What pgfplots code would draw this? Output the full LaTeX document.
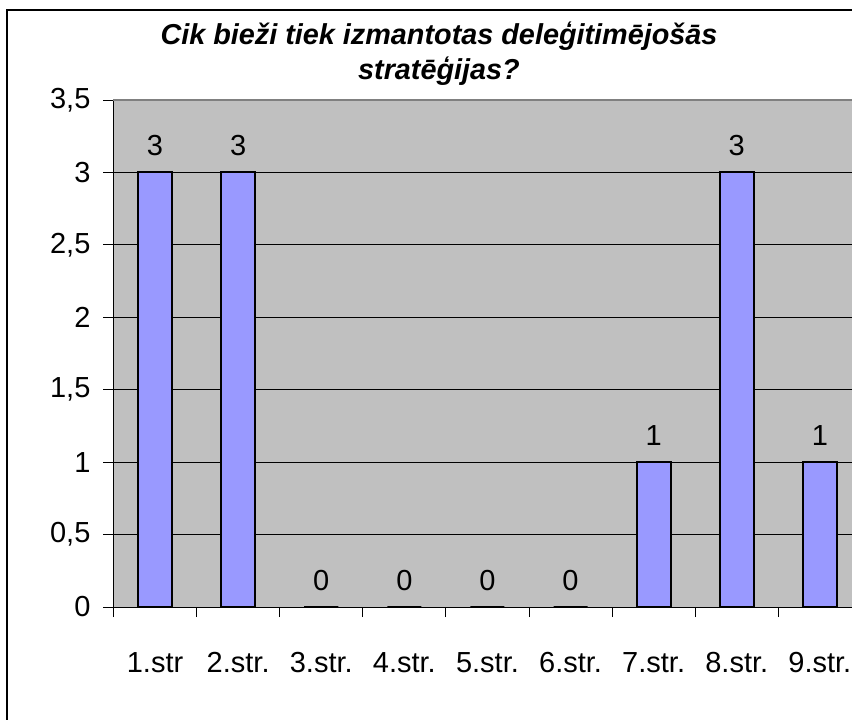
\documentclass[border=0pt]{standalone}
\usepackage{pgfplots}
\pgfplotsset{compat=1.18}
\usepackage{fontspec}
\setmainfont{Liberation Sans}

\definecolor{barblue}{HTML}{9999FF}
\definecolor{plotgray}{HTML}{C0C0C0}
\definecolor{topline}{HTML}{808080}

\begin{document}
\begin{tikzpicture}[x=1pt,y=1pt]
    \path[use as bounding box, clip] (0,0) rectangle (426,359.5);
    % chart frame (right and bottom edges fall outside the picture)
    \draw[line width=1pt] (3.5,-20) -- (3.5,354.5) -- (470,354.5);
    \node[anchor=base, font=\fontsize{14.4}{16}\selectfont\bfseries\itshape]
        at (219.5,337) {Cik bieži tiek izmantotas deleģitimējošās};
    \node[anchor=base, font=\fontsize{14.4}{16}\selectfont\bfseries\itshape]
        at (219.5,319.5) {stratēģijas?};

    \begin{axis}[
            at={(56.75pt,56pt)}, anchor=south west,
            width=373.95pt, height=253.5pt, scale only axis,
            xmin=-0.5, xmax=8.5, ymin=0, ymax=3.5,
            axis background/.style={fill=plotgray},
            axis x line*=bottom, axis y line*=left,
            axis line style={-, black, line width=0.5pt},
            ytick={0,0.5,...,3.5},
            ymajorgrids, grid style={black, line width=0.5pt},
            xtick={-0.5,0.5,...,8.5},
            xticklabels={1.str,2.str.,3.str.,4.str.,5.str.,6.str.,7.str.,8.str.,9.str.,{}},
            tick align=outside, major tick length=5pt,
            tick style={black, line width=0.5pt},
            tick label style={font=\fontsize{14.5}{16}\selectfont},
            xticklabel style={xshift=20.78pt, anchor=base, yshift=-27.5pt},
            yticklabel style={xshift=-3pt},
            /pgf/number format/use comma,
            /pgf/number format/assume math mode=true,
            ybar, bar width=0.41,
            nodes near coords,
            every node near coord/.append style={anchor=base, yshift=8.5pt,
                font=\fontsize{14.5}{16}\selectfont},
            clip=false
        ]
        \addplot[fill=barblue, draw=black, line width=1pt] coordinates {
                (0,3) (1,3) (2,0) (3,0) (4,0) (5,0) (6,1) (7,3) (8,1)
            };
        \draw[topline, line width=1pt] (axis cs:-0.5,3.5) -- (axis cs:8.5,3.5);
    \end{axis}
\end{tikzpicture}
\end{document}
